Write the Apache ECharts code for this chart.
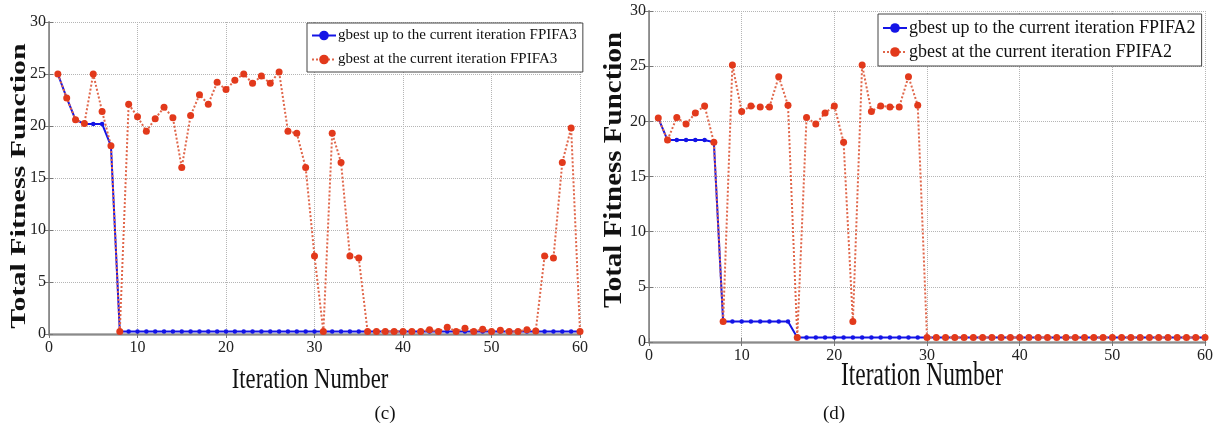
<!DOCTYPE html>
<html>
<head>
<meta charset="utf-8">
<style>
  html, body { margin: 0; padding: 0; background: #fff; }
  #chart { width: 1222px; height: 432px; }
</style>
<script src="https://cdn.jsdelivr.net/npm/echarts@6/dist/echarts.min.js"></script>
</head>
<body>
<div id="chart"></div>
<script>
// Iteration numbers shared by both panels
const iterations = Array.from({ length: 60 }, (_, k) => k + 1);
const xTicks = [0, 10, 20, 30, 40, 50, 60];
const yTicks = [0, 5, 10, 15, 20, 25, 30];

// Panel (c): FPIFA3
const bestFPIFA3 = [
  25.0, 22.7, 20.6, 20.2, 20.2, 20.2, 18.1, 0.25, 0.25, 0.25,
  0.25, 0.25, 0.25, 0.25, 0.25, 0.25, 0.25, 0.25, 0.25, 0.25,
  0.25, 0.25, 0.25, 0.25, 0.25, 0.25, 0.25, 0.25, 0.25, 0.25,
  0.25, 0.25, 0.25, 0.25, 0.25, 0.25, 0.25, 0.25, 0.25, 0.25,
  0.25, 0.25, 0.25, 0.25, 0.25, 0.25, 0.25, 0.25, 0.25, 0.25,
  0.25, 0.25, 0.25, 0.25, 0.25, 0.25, 0.25, 0.25, 0.25, 0.25
];
const currentFPIFA3 = [
  25.0, 22.7, 20.6, 20.25, 25.0, 21.4, 18.1, 0.25, 22.1, 20.9,
  19.5, 20.7, 21.8, 20.8, 16.0, 21.0, 23.0, 22.1, 24.2, 23.5,
  24.4, 25.0, 24.1, 24.8, 24.1, 25.2, 19.5, 19.3, 16.0, 7.5,
  0.25, 19.3, 16.5, 7.5, 7.3, 0.25, 0.25, 0.25, 0.25, 0.25,
  0.25, 0.25, 0.4, 0.25, 0.65, 0.25, 0.55, 0.25, 0.45, 0.25,
  0.35, 0.25, 0.25, 0.4, 0.3, 7.5, 7.3, 16.5, 19.8, 0.25
];

// Panel (d): FPIFA2
const bestFPIFA2 = [
  20.3, 18.3, 18.3, 18.3, 18.3, 18.3, 18.1, 1.85, 1.85, 1.85,
  1.85, 1.85, 1.85, 1.85, 1.85, 0.4, 0.4, 0.4, 0.4, 0.4,
  0.4, 0.4, 0.4, 0.4, 0.4, 0.4, 0.4, 0.4, 0.4, 0.4,
  0.4, 0.4, 0.4, 0.4, 0.4, 0.4, 0.4, 0.4, 0.4, 0.4,
  0.4, 0.4, 0.4, 0.4, 0.4, 0.4, 0.4, 0.4, 0.4, 0.4,
  0.4, 0.4, 0.4, 0.4, 0.4, 0.4, 0.4, 0.4, 0.4, 0.4
];
const currentFPIFA2 = [
  20.3, 18.3, 20.35, 19.75, 20.75, 21.4, 18.1, 1.85, 25.1, 20.9,
  21.4, 21.3, 21.3, 24.05, 21.45, 0.4, 20.35, 19.75, 20.75, 21.4,
  18.1, 1.85, 25.1, 20.9, 21.4, 21.3, 21.3, 24.05, 21.45, 0.4,
  0.4, 0.4, 0.4, 0.4, 0.4, 0.4, 0.4, 0.4, 0.4, 0.4,
  0.4, 0.4, 0.4, 0.4, 0.4, 0.4, 0.4, 0.4, 0.4, 0.4,
  0.4, 0.4, 0.4, 0.4, 0.4, 0.4, 0.4, 0.4, 0.4, 0.4
];

const names = {
  best3: 'gbest up to the current iteration FPIFA3',
  cur3: 'gbest at the current iteration FPIFA3',
  best2: 'gbest up to the current iteration FPIFA2',
  cur2: 'gbest at the current iteration FPIFA2'
};

const SERIF = '"Liberation Serif", "Times New Roman", serif';
const pairs = vals => iterations.map((it, k) => [it, vals[k]]);

function axisPair(gridIndex) {
  const x = xTicks, y = yTicks;
  const xMain = {
    type: 'value', gridIndex, position: 'bottom',
    min: x[0], max: x[x.length - 1], interval: x[1] - x[0],
    axisLine: { lineStyle: { color: '#9a9a9a', width: 2.5 } },
    axisTick: { inside: true, length: 4, lineStyle: { color: '#777' } },
    axisLabel: { fontFamily: SERIF, fontSize: 16, color: '#222', margin: 6 },
    splitLine: { show: true, lineStyle: { color: '#b5b5b5', type: 'dotted', width: 1 } }
  };
  const xTop = {
    type: 'value', gridIndex, position: 'top',
    min: x[0], max: x[x.length - 1], interval: x[1] - x[0],
    axisLine: { lineStyle: { color: '#8a8a8a', width: 1 } },
    axisTick: { inside: true, length: 4, lineStyle: { color: '#777' } },
    axisLabel: { show: false }, splitLine: { show: false }
  };
  const yMain = {
    type: 'value', gridIndex, position: 'left',
    min: y[0], max: y[y.length - 1], interval: y[1] - y[0],
    axisLine: { show: true, lineStyle: { color: '#9a9a9a', width: 2 } },
    axisTick: { show: true, inside: true, length: 4, lineStyle: { color: '#777' } },
    axisLabel: { fontFamily: SERIF, fontSize: 16, color: '#222', margin: 3 },
    splitLine: { show: true, lineStyle: { color: '#b5b5b5', type: 'dotted', width: 1 } }
  };
  const yRight = {
    type: 'value', gridIndex, position: 'right',
    min: y[0], max: y[y.length - 1], interval: y[1] - y[0],
    axisLine: { show: true, lineStyle: { color: '#8a8a8a', width: 1 } },
    axisTick: { show: true, inside: true, length: 4, lineStyle: { color: '#777' } },
    axisLabel: { show: false }, splitLine: { show: false }
  };
  return { x: [xMain, xTop], y: [yMain, yRight] };
}

const axesC = axisPair(0);
const axesD = axisPair(1);

function bestSeries(name, vals, xi, yi) {
  return {
    name, type: 'line', data: pairs(vals),
    xAxisIndex: xi, yAxisIndex: yi,
    symbol: 'circle', symbolSize: 4.5, showSymbol: true,
    color: '#1414e6',
    lineStyle: { color: '#1414e6', width: 2 },
    itemStyle: { color: '#1414e6' },
    z: 2
  };
}
function currentSeries(name, vals, xi, yi) {
  return {
    name, type: 'line', data: pairs(vals),
    xAxisIndex: xi, yAxisIndex: yi,
    symbol: 'circle', symbolSize: 7, showSymbol: true,
    color: '#e2391b',
    lineStyle: { color: '#e0664a', width: 2, type: 'dotted' },
    itemStyle: { color: '#e2391b' },
    z: 3
  };
}

function legendBox(data, left, top, fontSize, gap) {
  return {
    data, orient: 'vertical', left, top,
    backgroundColor: '#fff', borderColor: '#444', borderWidth: 1,
    padding: [5, 6, 5, 4], itemGap: gap, itemWidth: 24, itemHeight: 12,
    textStyle: { fontFamily: SERIF, fontSize, color: '#111', padding: [0, 0, 0, -3] }
  };
}

function label(text, x, y, font, opts) {
  return Object.assign({
    type: 'text', x, y, silent: true,
    style: {
      text, font, fill: '#111',
      align: 'center', verticalAlign: 'middle',
      textAlign: 'center', textVerticalAlign: 'middle'
    }
  }, opts || {});
}

const option = {
  animation: false,
  backgroundColor: '#fff',
  grid: [
    { left: 49, right: 1222 - 580, top: 22, bottom: 432 - 334 },
    { left: 649, right: 1222 - 1205, top: 11, bottom: 432 - 342 }
  ],
  xAxis: [...axesC.x, ...axesD.x],
  yAxis: [...axesC.y, ...axesD.y],
  legend: [
    legendBox([names.best3, names.cur3], 307, 23, 15, 9),
    legendBox([names.best2, names.cur2], 878, 14, 18, 6)
  ],
  series: [
    bestSeries(names.best3, bestFPIFA3, 0, 0),
    currentSeries(names.cur3, currentFPIFA3, 0, 0),
    bestSeries(names.best2, bestFPIFA2, 2, 2),
    currentSeries(names.cur2, currentFPIFA2, 2, 2)
  ],
  graphic: [
    // vertical axis titles (condensed across the glyph height)
    label('Total Fitness Function', 19, 186, 'bold 30px ' + SERIF, { rotation: Math.PI / 2, scaleY: 0.72 }),
    label('Total Fitness Function', 615, 170, 'bold 29px ' + SERIF, { rotation: Math.PI / 2, scaleY: 0.84 }),
    // horizontal axis titles (condensed width)
    label('Iteration Number', 310, 380, '29px ' + SERIF, { scaleX: 0.78 }),
    label('Iteration Number', 922, 376, '33px ' + SERIF, { scaleX: 0.71 }),
    // panel captions
    label('(c)', 385, 414, '19px ' + SERIF),
    label('(d)', 834, 414, '19px ' + SERIF)
  ]
};

const chart = echarts.init(document.getElementById('chart'), null, { renderer: 'canvas' });
chart.setOption(option);
</script>
</body>
</html>
